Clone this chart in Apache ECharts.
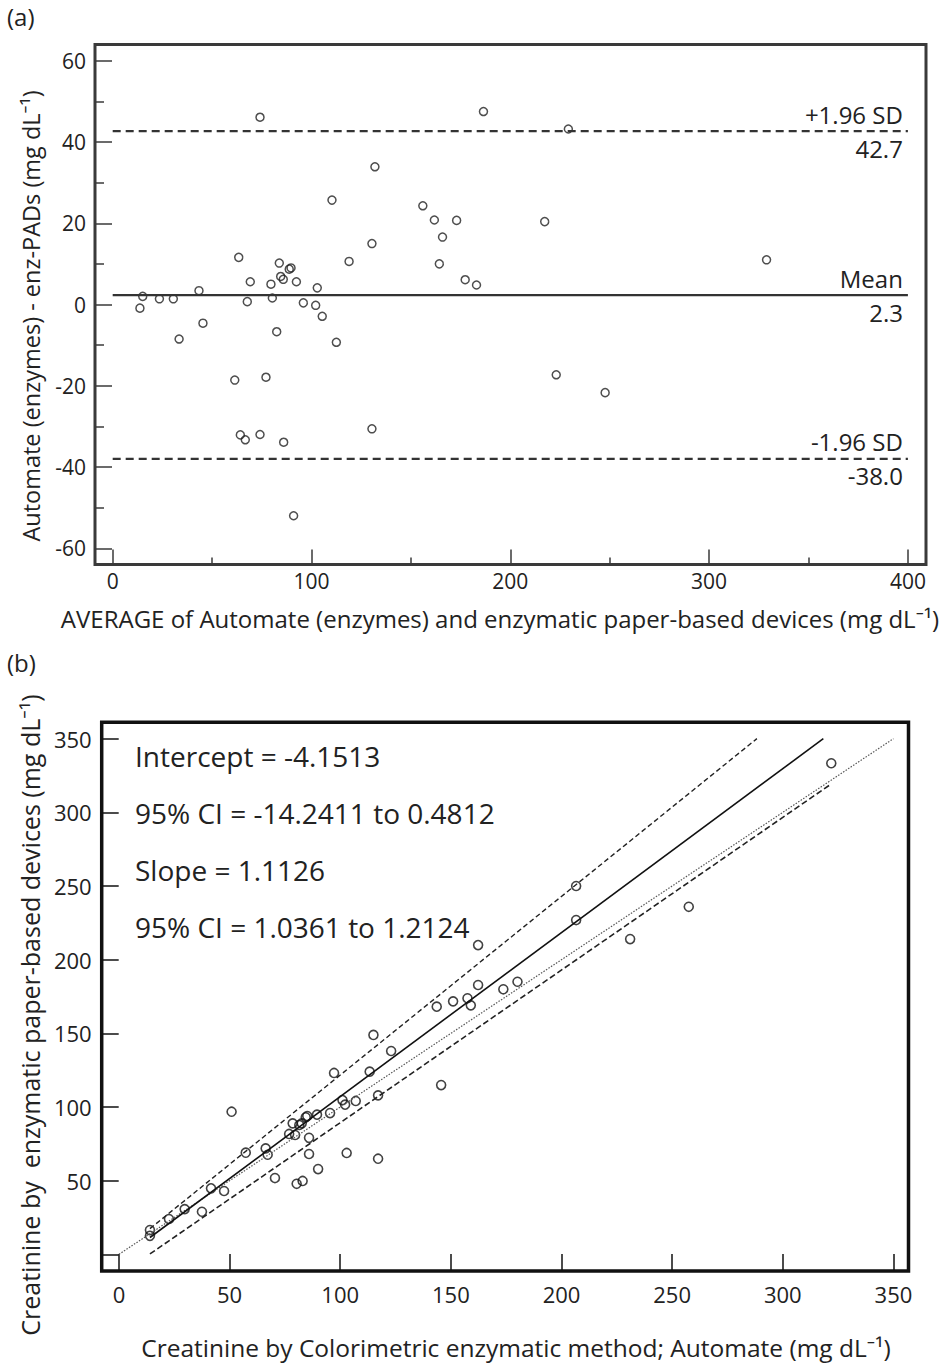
<!DOCTYPE html>
<html>
<head>
<meta charset="utf-8">
<script src="https://cdn.jsdelivr.net/npm/echarts@6/dist/echarts.min.js"></script>
<style>
  html, body { margin: 0; padding: 0; background: #fff; }
  #chart { width: 947px; height: 1364px; }
</style>
</head>
<body>
<div id="chart"></div>
<script>
// ---- (a) Bland–Altman: average of both methods vs. their difference ----
const baAverage = [
  74.1, 131.9, 110.3, 130.4, 118.9, 63.4, 69.2, 83.8, 84.5, 85.8,
  88.8, 89.7, 79.6, 92.4, 102.9, 43.4, 15.1, 23.5, 30.5, 13.7,
  67.7, 80.3, 95.9, 102.1, 105.4, 45.4, 33.4, 82.5, 112.5, 61.4,
  77.1, 130.4, 64.2, 66.7, 74.1, 86.0, 91.0, 186.5, 229.2, 156.0,
  161.8, 173.0, 165.9, 164.3, 177.3, 183.0, 217.3, 328.9, 223.1, 247.7
];
const baDifference = [
  46.1, 33.9, 25.7, 15.0, 10.6, 11.6, 5.6, 10.2, 6.9, 6.2,
  8.7, 9.0, 5.0, 5.6, 4.1, 3.4, 2.0, 1.4, 1.4, -0.9,
  0.7, 1.6, 0.4, -0.2, -2.9, -4.6, -8.5, -6.7, -9.3, -18.6,
  -17.9, -30.6, -32.1, -33.3, -32.0, -33.9, -52.0, 47.5, 43.2, 24.3,
  20.8, 20.7, 16.6, 10.0, 6.1, 4.8, 20.4, 11.0, -17.3, -21.7
];
const baMean = 2.3;
const baUpper = 42.7;
const baLower = -38.0;
const baLineSpan = [0, 400];
const baXTicks = [0, 100, 200, 300, 400];
const baXMinorTicks = [50, 150, 250, 350];
const baYTicks = [-60, -40, -20, 0, 20, 40, 60];
const baYMinorTicks = [-50, -30, -10, 10, 30, 50];

// ---- (b) Method comparison: automate vs. paper-based devices ----
const pbAutomate = [
  14.0, 14.0, 22.6, 29.7, 37.5, 41.6, 47.5, 50.9, 57.3, 66.3,
  67.2, 70.5, 76.9, 79.6, 78.5, 81.5, 82.6, 84.4, 85.1, 85.9,
  85.9, 80.3, 83.0, 90.0, 89.5, 95.4, 97.2, 101.0, 102.2, 107.0,
  102.9, 113.3, 115.0, 123.0, 117.1, 117.1, 206.6, 206.6, 162.3, 162.3,
  143.6, 151.0, 157.5, 159.0, 173.7, 180.1, 145.6, 321.9, 257.5, 231.0
];
const pbPaper = [
  16.5, 12.6, 24.0, 30.7, 28.9, 44.8, 43.0, 96.8, 69.0, 71.9,
  67.6, 51.8, 81.7, 81.0, 88.9, 87.8, 88.9, 93.0, 93.9, 79.1,
  68.1, 47.9, 49.8, 57.9, 94.8, 95.9, 123.1, 104.7, 101.6, 104.1,
  68.8, 124.0, 148.9, 138.0, 107.9, 64.9, 250.0, 226.9, 209.9, 182.8,
  168.1, 171.7, 173.8, 169.0, 179.9, 185.0, 114.9, 333.3, 235.9, 214.0
];
const pbIntercept = -4.1513;
const pbInterceptCI = [-14.2411, 0.4812];
const pbSlope = 1.1126;
const pbSlopeCI = [1.0361, 1.2124];
const pbTicks = [0, 50, 100, 150, 200, 250, 300, 350];
const pbYLabels = [50, 100, 150, 200, 250, 300, 350];
const pbCap = 350;

const FONT = '"Open Sans", "Noto Sans", sans-serif';
const INK = '#222';
const FRAME_A = '#3a3a3a';

// fitted line from intercept/slope over the observed x-range, clipped at the top tick
function fitLine(a, b) {
  const x0 = Math.min(...pbAutomate);
  const x1 = Math.min(Math.max(...pbAutomate), (pbCap - a) / b);
  return [[x0, a + b * x0], [x1, a + b * x1]];
}

const baPoints = baAverage.map((x, i) => [x, baDifference[i]]);
const pbPoints = pbAutomate.map((x, i) => [x, pbPaper[i]]);

function tickAxis(opts) {
  return Object.assign({
    type: 'value',
    axisLine: { show: false, onZero: false },
    splitLine: { show: false },
    axisTick: { show: true, inside: true },
    axisLabel: { show: true }
  }, opts);
}

function limitSeries(value, topText, bottomText, dashed) {
  return {
    type: 'line',
    xAxisIndex: 0, yAxisIndex: 0,
    data: [[baLineSpan[0], value], [baLineSpan[1], value]],
    symbol: 'none',
    silent: true,
    lineStyle: { color: '#333', width: 2.2, type: dashed ? [8, 5] : 'solid' },
    markLine: {
      silent: true,
      symbol: ['none', 'none'],
      lineStyle: { color: 'rgba(0,0,0,0)', width: 0 },
      label: { fontSize: 24, color: INK, fontFamily: FONT, distance: 5 },
      data: [
        [{ coord: [baLineSpan[0], value], label: { position: 'insideEndTop', formatter: topText } },
         { coord: [baLineSpan[1], value] }],
        [{ coord: [baLineSpan[0], value], label: { position: 'insideEndBottom', formatter: bottomText } },
         { coord: [baLineSpan[1], value] }]
      ]
    }
  };
}

function text(x, y, str, size, rotated, align) {
  return {
    type: 'text', x: x, y: y, rotation: rotated ? Math.PI / 2 : 0,
    style: { text: str, font: size + 'px ' + FONT, fill: INK,
      align: align || 'center', verticalAlign: 'middle' }
  };
}

const chart = echarts.init(document.getElementById('chart'), null, { renderer: 'svg' });

const option = {
  animation: false,
  backgroundColor: '#fff',
  grid: [
    { left: 95, top: 44.5, width: 831, height: 520, show: true,
      borderColor: FRAME_A, borderWidth: 3, backgroundColor: 'rgba(0,0,0,0)' },
    { left: 101.7, top: 722.3, width: 806.8, height: 548.7, show: true,
      borderColor: '#111', borderWidth: 3.5, backgroundColor: 'rgba(0,0,0,0)' }
  ],
  xAxis: [
    tickAxis({ gridIndex: 0, position: 'bottom', min: -8.9, max: 409.1,
      axisTick: { show: true, inside: true, length: 15, customValues: baXTicks,
        lineStyle: { color: FRAME_A, width: 1.5 } },
      axisLabel: { customValues: baXTicks, fontSize: 21, color: INK, fontFamily: FONT, margin: 6 } }),
    tickAxis({ gridIndex: 0, position: 'bottom', min: -8.9, max: 409.1,
      axisTick: { show: true, inside: true, length: 7, customValues: baXMinorTicks,
        lineStyle: { color: FRAME_A, width: 1.5 } },
      axisLabel: { show: false } }),
    tickAxis({ gridIndex: 1, position: 'bottom', min: -7.8, max: 356.8,
      axisTick: { show: true, inside: true, length: 17, customValues: pbTicks,
        lineStyle: { color: '#111', width: 1.5 } },
      axisLabel: { customValues: pbTicks, fontSize: 22, color: INK, fontFamily: FONT, margin: 12 } })
  ],
  yAxis: [
    tickAxis({ gridIndex: 0, position: 'left', min: -64, max: 64,
      axisTick: { show: true, inside: true, length: 17, customValues: baYTicks,
        lineStyle: { color: FRAME_A, width: 1.5 } },
      axisLabel: { customValues: baYTicks, fontSize: 21, color: INK, fontFamily: FONT, margin: 9 } }),
    tickAxis({ gridIndex: 0, position: 'left', min: -64, max: 64,
      axisTick: { show: true, inside: true, length: 9, customValues: baYMinorTicks,
        lineStyle: { color: FRAME_A, width: 1.5 } },
      axisLabel: { show: false } }),
    tickAxis({ gridIndex: 1, position: 'left', min: -11.3, max: 361.1,
      axisTick: { show: true, inside: true, length: 17, customValues: pbTicks,
        lineStyle: { color: '#111', width: 1.5 } },
      axisLabel: { customValues: pbYLabels, fontSize: 22, color: INK, fontFamily: FONT, margin: 10 } })
  ],
  series: [
    limitSeries(baUpper, '+1.96 SD', baUpper.toFixed(1), true),
    limitSeries(baMean, 'Mean', baMean.toFixed(1), false),
    limitSeries(baLower, '-1.96 SD', baLower.toFixed(1), true),
    {
      type: 'scatter', xAxisIndex: 0, yAxisIndex: 0, data: baPoints,
      symbol: 'circle', symbolSize: 8, silent: true,
      itemStyle: { color: 'rgba(255,255,255,0)', borderColor: '#222', borderWidth: 1.5 }
    },
    // line of identity
    {
      type: 'line', xAxisIndex: 2, yAxisIndex: 2, symbol: 'none', silent: true,
      data: [[0, 0], [pbCap, pbCap]],
      lineStyle: { color: '#555', width: 1.2, type: [1.5, 1.5] }
    },
    // upper confidence line
    {
      type: 'line', xAxisIndex: 2, yAxisIndex: 2, symbol: 'none', silent: true,
      data: fitLine(pbInterceptCI[1], pbSlopeCI[1]),
      lineStyle: { color: '#222', width: 1.4, type: [5, 3] }
    },
    // regression line
    {
      type: 'line', xAxisIndex: 2, yAxisIndex: 2, symbol: 'none', silent: true,
      data: fitLine(pbIntercept, pbSlope),
      lineStyle: { color: '#111', width: 1.6 }
    },
    // lower confidence line
    {
      type: 'line', xAxisIndex: 2, yAxisIndex: 2, symbol: 'none', silent: true,
      data: fitLine(pbInterceptCI[0], pbSlopeCI[0]),
      lineStyle: { color: '#222', width: 1.6, type: [6, 3] }
    },
    {
      type: 'scatter', xAxisIndex: 2, yAxisIndex: 2, data: pbPoints,
      symbol: 'circle', symbolSize: 9, silent: true,
      itemStyle: { color: 'rgba(255,255,255,0)', borderColor: '#111', borderWidth: 1.6 }
    }
  ],
  graphic: [
    text(7, 16, '(a)', 24, false, 'left'),
    text(7, 662, '(b)', 24, false, 'left'),
    text(31, 316, 'Automate (enzymes) - enz-PADs (mg dL\u207B\u00B9)', 23.5, true),
    text(500, 618, 'AVERAGE of Automate (enzymes) and enzymatic paper-based devices (mg dL\u207B\u00B9)', 24),
    text(30, 1015, 'Creatinine by  enzymatic paper-based devices (mg dL\u207B\u00B9)', 25, true),
    text(516, 1347, 'Creatinine by Colorimetric enzymatic method; Automate (mg dL\u207B\u00B9)', 24.5),
    text(135, 756, 'Intercept = ' + pbIntercept.toFixed(4), 28, false, 'left'),
    text(135, 813, '95% CI = ' + pbInterceptCI[0].toFixed(4) + ' to ' + pbInterceptCI[1].toFixed(4), 28, false, 'left'),
    text(135, 870, 'Slope = ' + pbSlope.toFixed(4), 28, false, 'left'),
    text(135, 927, '95% CI = ' + pbSlopeCI[0].toFixed(4) + ' to ' + pbSlopeCI[1].toFixed(4), 28, false, 'left')
  ]
};

chart.setOption(option);
</script>
</body>
</html>
